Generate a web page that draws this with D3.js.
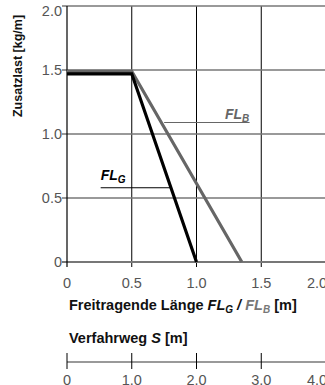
<!DOCTYPE html>
<html>

<head>
    <meta charset="UTF-8">
    <title>Zusatzlast</title>
    <script src="https://d3js.org/d3.v7.min.js"></script>
    <style>
        body {
            margin: 0;
            background-color: white;
        }
        text {
            font-family: "Liberation Sans", Arial, sans-serif;
        }
    </style>
</head>

<body>
    <div id="chart"></div>
    <script>
        // data
        var lengthG = [0, 0.5, 1.0];
        var loadG = [1.47, 1.47, 0];
        var lengthB = [0, 0.5, 1.35];
        var loadB = [1.49, 1.49, 0];
        var xTicks = [0, 0.5, 1.0, 1.5, 2.0];
        var yTicks = [0, 0.5, 1.0, 1.5, 2.0];
        var sTicks = [0, 1.0, 2.0, 3.0, 4.0];

        (function(d3) {
            var width = 325, height = 385;
            var x0 = 67, xEnd = 326;
            var yTop = 6, yBottom = 262;

            var svg = d3.select('#chart').append('svg')
                .attr('width', width)
                .attr('height', height);

            var x = d3.scaleLinear().domain([0, 2]).range([x0, xEnd]);
            var y = d3.scaleLinear().domain([0, 2]).range([yBottom, yTop]);
            var s = d3.scaleLinear().domain([0, 4]).range([x0, xEnd]);

            var fmt = function(d) { return d === 0 ? '0' : d.toFixed(1); };

            // vertical grid (black, thin)
            svg.selectAll('.vgrid')
                .data(xTicks.slice(1))
                .enter().append('line')
                .attr('x1', function(d) { return x(d); })
                .attr('x2', function(d) { return x(d); })
                .attr('y1', yTop)
                .attr('y2', yBottom + 5)
                .attr('stroke', '#000')
                .attr('stroke-width', 1);

            // horizontal grid (gray)
            svg.selectAll('.hgrid')
                .data(yTicks)
                .enter().append('line')
                .attr('x1', x0 - 5)
                .attr('x2', xEnd)
                .attr('y1', function(d) { return y(d); })
                .attr('y2', function(d) { return y(d); })
                .attr('stroke', '#777')
                .attr('stroke-width', function(d) { return d === 0 ? 2 : 1.5; });

            // left axis
            svg.append('line')
                .attr('x1', x0).attr('x2', x0)
                .attr('y1', yTop).attr('y2', yBottom + 5)
                .attr('stroke', '#000').attr('stroke-width', 1.2);

            // y tick labels (top one pushed down to stay inside)
            svg.selectAll('.ylab')
                .data(yTicks)
                .enter().append('text')
                .attr('x', x0 - 5)
                .attr('y', function(d) { return y(d) + (d === 2 ? 5 : 0); })
                .attr('dy', '0.35em')
                .attr('text-anchor', 'end')
                .attr('font-size', 14.5)
                .attr('fill', '#555')
                .text(fmt);

            // x tick labels (last one nudged left)
            svg.selectAll('.xlab')
                .data(xTicks)
                .enter().append('text')
                .attr('x', function(d) { return x(d) - (d === 2 ? 9 : 0); })
                .attr('y', 288)
                .attr('text-anchor', 'middle')
                .attr('font-size', 14.5)
                .attr('fill', '#555')
                .text(fmt);

            // y title
            svg.append('text')
                .attr('transform', 'translate(22,66) rotate(-90)')
                .attr('text-anchor', 'middle')
                .attr('font-size', 12.5)
                .attr('font-weight', 'bold')
                .attr('fill', '#111')
                .text('Zusatzlast [kg/m]');

            // curves
            var line = d3.line()
                .x(function(d) { return x(d[0]); })
                .y(function(d) { return y(d[1]); });

            svg.append('path')
                .datum(d3.zip(lengthB, loadB))
                .attr('d', line)
                .attr('fill', 'none')
                .attr('stroke', '#666')
                .attr('stroke-width', 3.2);

            svg.append('path')
                .datum(d3.zip(lengthG, loadG))
                .attr('d', line)
                .attr('fill', 'none')
                .attr('stroke', '#000')
                .attr('stroke-width', 3.2);

            // curve labels
            function label(txt, sub, px, py, color) {
                var t = svg.append('text')
                    .attr('x', px).attr('y', py)
                    .attr('font-size', 14)
                    .attr('font-weight', 'bold')
                    .attr('font-style', 'italic')
                    .attr('fill', color);
                t.append('tspan').text(txt);
                t.append('tspan').attr('font-size', 10).attr('dy', 3).text(sub);
            }
            label('FL', 'G', x(0.26), y(0.64), '#000');
            svg.append('line')
                .attr('x1', x(0.26)).attr('x2', x(0.8))
                .attr('y1', y(0.58)).attr('y2', y(0.58))
                .attr('stroke', '#000').attr('stroke-width', 1.2);

            label('FL', 'B', x(1.22), y(1.12), '#666');
            svg.append('line')
                .attr('x1', x(0.75)).attr('x2', x(1.41))
                .attr('y1', y(1.09)).attr('y2', y(1.09))
                .attr('stroke', '#666').attr('stroke-width', 1.2);

            // x title
            var xt = svg.append('text')
                .attr('x', 69).attr('y', 310)
                .attr('font-size', 14.5)
                .attr('font-weight', 'bold')
                .attr('fill', '#111');
            xt.append('tspan').text('Freitragende Länge ');
            xt.append('tspan').attr('font-style', 'italic').text('FL');
            xt.append('tspan').attr('font-style', 'italic').attr('font-size', 10).attr('dy', 3).text('G');
            xt.append('tspan').attr('font-style', 'italic').attr('dy', -3).text(' / ');
            xt.append('tspan').attr('font-style', 'italic').attr('fill', '#777').text('FL');
            xt.append('tspan').attr('font-style', 'italic').attr('fill', '#777').attr('font-size', 10).attr('dy', 3).text('B');
            xt.append('tspan').attr('dy', -3).text(' [m]');

            // second axis title
            var st = svg.append('text')
                .attr('x', 69).attr('y', 343)
                .attr('font-size', 14.5)
                .attr('font-weight', 'bold')
                .attr('fill', '#111');
            st.append('tspan').text('Verfahrweg ');
            st.append('tspan').attr('font-style', 'italic').text('S');
            st.append('tspan').text(' [m]');

            // second axis
            var sy = 362;
            svg.append('line')
                .attr('x1', x0).attr('x2', xEnd)
                .attr('y1', sy).attr('y2', sy)
                .attr('stroke', '#777').attr('stroke-width', 1.5);
            svg.selectAll('.stick')
                .data(sTicks)
                .enter().append('line')
                .attr('x1', function(d) { return s(d); })
                .attr('x2', function(d) { return s(d); })
                .attr('y1', sy - 9).attr('y2', sy + 7)
                .attr('stroke', '#000').attr('stroke-width', 1);
            svg.selectAll('.slab')
                .data(sTicks)
                .enter().append('text')
                .attr('x', function(d) { return s(d) - (d === 4 ? 9 : 0); })
                .attr('y', 385)
                .attr('text-anchor', 'middle')
                .attr('font-size', 14.5)
                .attr('fill', '#555')
                .text(fmt);

        })(window.d3);
    </script>
</body>

</html>
